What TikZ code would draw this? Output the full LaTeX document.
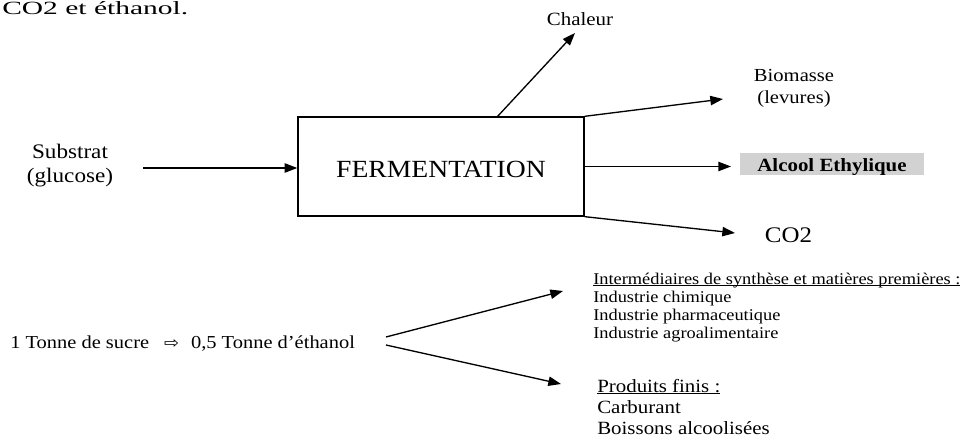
\documentclass[tikz,border=0pt]{standalone}
\usepackage{fontspec}
\setmainfont{Liberation Serif}
\newfontfamily\symfont{DejaVu Sans}
\usetikzlibrary{arrows.meta}
\newcommand{\hs}[1]{\scalebox{1.12}[1]{#1}}
\newsavebox{\ulinebox}
\newcommand{\uln}[1]{\sbox{\ulinebox}{#1}\rlap{\rule[-1.3pt]{\wd\ulinebox}{0.6pt}}\usebox{\ulinebox}}
\begin{document}
\begin{tikzpicture}[x=0.75pt,y=-0.75pt,
  arr/.style={line width=1pt,-{Triangle[length=9.5pt,width=7pt]}},
  txt/.style={inner sep=0pt},
]
\useasboundingbox (0,0) rectangle (966,438);

% top fragment of sentence
\node[txt,anchor=base west,font=\fontsize{14}{16}\selectfont] (top) at (2,15) {\scalebox{1.58}[1]{CO2 et éthanol.}};

% main box
\node[draw,line width=1pt,minimum width=214.5pt,minimum height=74.25pt,inner sep=0pt,
      text height=17.25pt,text depth=0pt,font=\fontsize{18.5}{20}\selectfont] (fer) at (441,166.5) {\hs{FERMENTATION}};

\node[txt,align=center,font=\fontsize{15.5}{18}\selectfont] (sub) at (70,166) {\hs{Substrat}\\\hs{(glucose)}};
\node[txt,anchor=base,font=\fontsize{14}{16}\selectfont] (cha) at (580,26) {\hs{Chaleur}};
\node[txt,align=center,font=\fontsize{13.8}{16.5}\selectfont] (bio) at (794,88) {\hs{Biomasse}\\\hs{(levures)}};
\node[fill=gray!35,minimum width=138pt,minimum height=16.5pt,inner sep=0pt,
      text height=12pt,text depth=0pt,font=\bfseries\fontsize{14}{16}\selectfont] (alc) at (832,164) {\hs{Alcool Ethylique}};
\node[txt,anchor=base,font=\fontsize{16.7}{18}\selectfont] (co2) at (788.5,243) {\hs{CO2}};

% bottom
\node[txt,anchor=base west,font=\fontsize{13.7}{16}\selectfont] (eq) at (10,348)
  {\hs{1 Tonne de sucre\hspace{10pt}{\symfont\fontsize{12}{12}\selectfont ⇨}\hspace{8pt}0,5 Tonne d’éthanol}};
\node[txt,anchor=base west,font=\fontsize{12.3}{13.5}\selectfont] (int) at (593,284)
  {\hs{\begin{tabular}[t]{@{}l@{}}\uln{Intermédiaires de synthèse et matières premières :}\\Industrie chimique\\Industrie pharmaceutique\\Industrie agroalimentaire\end{tabular}}};
\node[txt,anchor=base west,font=\fontsize{14}{15.75}\selectfont] (fin) at (597,392)
  {\hs{\begin{tabular}[t]{@{}l@{}}\uln{Produits finis :}\\Carburant\\Boissons alcoolisées\end{tabular}}};

% connector end points
\coordinate (in) at (143,168);
\coordinate (c0) at (497,117);
\coordinate (ctip) at (575,33);
\coordinate (btip) at (723,99);
\coordinate (atip) at (731,166.5);
\coordinate (otip) at (735,233);
\coordinate (f1) at (386,337);
\coordinate (f2) at (386,345);
\coordinate (t1) at (563,291);
\coordinate (t2) at (561,384);

\draw[arr] (in) -- (in -| fer.west);
\draw[arr] (c0) -- (ctip);
\draw[arr] (fer.north east) -- (btip);
\draw[arr] (fer.east) -- (atip);
\draw[arr] (fer.south east) -- (otip);
\draw[arr] (f1) -- (t1);
\draw[arr] (f2) -- (t2);
\end{tikzpicture}
\end{document}
